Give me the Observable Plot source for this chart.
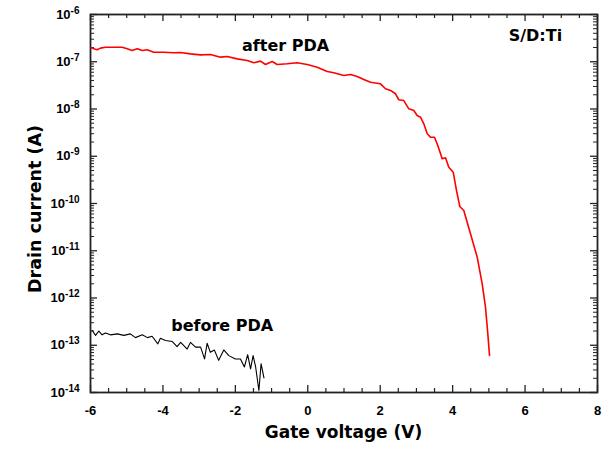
<!DOCTYPE html>
<html><head><meta charset="utf-8">
<script src="https://cdn.jsdelivr.net/npm/d3@7"></script>
<script src="https://cdn.jsdelivr.net/npm/@observablehq/plot@0.6"></script>
<style>body{margin:0;background:#fff}</style>
</head><body><div id="chart"></div>
<script>
// after PDA (red)
const afterV = [-5.981,-5.909,-5.815,-5.724,-5.586,-5.357,-5.125,-4.987,-4.849,-4.710,-4.572,-4.434,-4.252,-3.976,-3.700,-3.515,-3.239,-2.963,-2.687,-2.411,-2.225,-1.949,-1.673,-1.491,-1.306,-1.168,-0.983,-0.845,-0.568,-0.292,-0.016,0.260,0.536,0.718,0.995,1.180,1.365,1.547,1.732,2.008,2.146,2.284,2.422,2.513,2.651,2.790,2.928,3.021,3.113,3.204,3.298,3.389,3.499,3.590,3.712,3.803,3.894,4.016,4.107,4.198,4.308,4.493,4.678,4.816,4.907,4.971,5.018];
const afterI = [1.97e-7,1.88e-7,1.79e-7,1.94e-7,2.03e-7,2.03e-7,2.03e-7,1.88e-7,1.73e-7,1.88e-7,1.73e-7,1.79e-7,1.59e-7,1.59e-7,1.55e-7,1.57e-7,1.47e-7,1.40e-7,1.42e-7,1.25e-7,1.29e-7,1.15e-7,1.06e-7,9.51e-8,1.03e-7,8.75e-8,1.01e-7,8.75e-8,9.06e-8,9.51e-8,8.75e-8,7.67e-8,6.22e-8,5.83e-8,5.12e-8,5.37e-8,4.88e-8,4.21e-8,3.69e-8,3.41e-8,2.68e-8,2.47e-8,2.10e-8,1.57e-8,1.51e-8,1.01e-8,9.29e-9,7.28e-9,6.70e-9,4.86e-9,2.99e-9,2.53e-9,2.53e-9,1.69e-9,8.83e-10,9.27e-10,5.86e-10,4.59e-10,1.88e-10,8.65e-11,7.11e-11,2.29e-11,7.31e-12,2.00e-12,6.41e-13,1.75e-13,6.10e-14];
// before PDA (black)
const beforeV = [-5.95,-5.86,-5.77,-5.68,-5.59,-5.45,-5.26,-5.08,-4.90,-4.76,-4.57,-4.43,-4.30,-4.14,-4.07,-3.93,-3.74,-3.61,-3.51,-3.33,-3.24,-3.10,-2.96,-2.85,-2.78,-2.69,-2.58,-2.46,-2.32,-2.18,-2.00,-1.86,-1.75,-1.66,-1.58,-1.51,-1.44,-1.35,-1.29,-1.21];
const beforeI = [2.05e-13,1.62e-13,2.00e-13,1.66e-13,1.82e-13,1.66e-13,1.74e-13,1.62e-13,1.74e-13,1.45e-13,1.66e-13,1.45e-13,1.55e-13,1.07e-13,1.41e-13,1.26e-13,1.20e-13,9.33e-14,1.15e-13,8.32e-14,1.15e-13,9.12e-14,9.12e-14,5.13e-14,1.10e-13,7.08e-14,7.94e-14,4.79e-14,7.94e-14,6.03e-14,5.13e-14,5.13e-14,3.47e-14,6.31e-14,3.16e-14,6.03e-14,3.47e-14,1.10e-14,4.07e-14,2.04e-14];

const xMajorTicks = [-6,-4,-2,0,2,4,6,8];
const xMinorTicks = [-5.5,-5,-4.5,-3.5,-3,-2.5,-1.5,-1,-0.5,0.5,1,1.5,2.5,3,3.5,4.5,5,5.5,6.5,7,7.5];
const yExponents = [-14,-13,-12,-11,-10,-9,-8,-7,-6];
const yMantissas = [2,3,4,5,6,7,8,9];

const noteText = ["after PDA", "before PDA", "S/D:Ti"];
const noteV = [-0.6, -2.35, 6.3];
const noteI = [2.2e-7, 2.6e-13, 3.6e-7];

const xTitle = "Gate voltage (V)";
const yTitle = "Drain current (A)";

const after = afterV.map((v, k) => ({v, i: afterI[k]}));
const before = beforeV.map((v, k) => ({v, i: beforeI[k]}));
const yMajor = yExponents.map(e => Math.pow(10, e));
const yMinor = yExponents.slice(0, -1).flatMap(e => yMantissas.map(m => m * Math.pow(10, e)));

const TICKFONT = "'Liberation Sans', Arial, sans-serif";
const WIDEFONT = "'DejaVu Sans', sans-serif";
const AX = "#222";

// layout
const W = 608, H = 451, ML = 90, MR = 11, MT = 14, MB = 59;
const FW = W - ML - MR, FH = H - MT - MB;
const MAJ = 7, MIN = 4;

const plot = Plot.plot({
  width: W, height: H,
  marginLeft: ML, marginRight: MR, marginTop: MT, marginBottom: MB,
  style: {fontFamily: TICKFONT, fontWeight: "bold", fontSize: "13px", color: "#000", background: "#fff", overflow: "visible"},
  x: {domain: [-6, 8], label: null},
  y: {type: "log", domain: [1e-14, 1e-6], label: null},
  marks: [
    // inward ticks (short rules inset from the frame)
    Plot.ruleX(xMajorTicks, {x: d => d, insetTop: FH - MAJ, stroke: AX, strokeWidth: 1.3}),
    Plot.ruleX(xMinorTicks, {x: d => d, insetTop: FH - MIN, stroke: AX, strokeWidth: 1.2}),
    Plot.ruleX(xMajorTicks, {x: d => d, insetBottom: FH - MAJ, stroke: AX, strokeWidth: 1.3}),
    Plot.ruleX(xMinorTicks, {x: d => d, insetBottom: FH - MIN, stroke: AX, strokeWidth: 1.2}),
    Plot.ruleY(yMajor, {y: d => d, insetRight: FW - MAJ, stroke: AX, strokeWidth: 1.3}),
    Plot.ruleY(yMinor, {y: d => d, insetRight: FW - MIN, stroke: AX, strokeWidth: 1}),
    Plot.ruleY(yMajor, {y: d => d, insetLeft: FW - MAJ, stroke: AX, strokeWidth: 1.3}),
    Plot.ruleY(yMinor, {y: d => d, insetLeft: FW - MIN, stroke: AX, strokeWidth: 1}),
    // tick labels
    Plot.axisX({anchor: "bottom", ticks: xMajorTicks, tickSize: 0, tickPadding: 13, tickFormat: d => String(d), label: null}),
    Plot.axisY({anchor: "left", ticks: yMajor, tickSize: 0, tickPadding: 11, tickFormat: d => String(Math.round(Math.log10(d))), label: null}),
    Plot.frame({stroke: AX, strokeWidth: 1.8}),
    Plot.line(after, {x: "v", y: "i", stroke: "#ff0000", strokeWidth: 1.6}),
    Plot.line(before, {x: "v", y: "i", stroke: "#000", strokeWidth: 1.1})
  ]
});

const NS = "http://www.w3.org/2000/svg";
// exponent superscripts on the y tick labels
plot.querySelectorAll('g[aria-label="y-axis tick label"] text').forEach(t => {
  const e = t.textContent;
  if (!e) return;
  t.textContent = "";
  const base = document.createElementNS(NS, "tspan");
  base.textContent = "10";
  const sup = document.createElementNS(NS, "tspan");
  sup.textContent = e;
  sup.setAttribute("dy", "-0.5em");
  sup.setAttribute("font-size", "10");
  t.appendChild(base);
  t.appendChild(sup);
});

// annotations and axis titles, positioned through the plot's scales
const sx = plot.scale("x"), sy = plot.scale("y");
const [fx0, fx1] = sx.range, [fy0, fy1] = sy.range;
const g = document.createElementNS(NS, "g");
g.setAttribute("font-family", WIDEFONT);
g.setAttribute("font-weight", "bold");
g.setAttribute("fill", "#000");
g.setAttribute("text-anchor", "middle");
function addText(str, x, y, size, extra) {
  const t = document.createElementNS(NS, "text");
  t.setAttribute("x", x); t.setAttribute("y", y);
  t.setAttribute("font-size", size);
  if (extra) for (const k in extra) t.setAttribute(k, extra[k]);
  t.textContent = str;
  g.appendChild(t);
}
noteText.forEach((s, k) => addText(s, sx.apply(noteV[k]), sy.apply(noteI[k]), 16, {dy: "0.35em"}));
const bottom = Math.max(fy0, fy1);
addText(xTitle, (fx0 + fx1) / 2, bottom + 46, 17);
const midY = (fy0 + fy1) / 2 + 6;
addText(yTitle, 0, 0, 17.5, {dy: "0.35em", transform: `translate(${Math.min(fx0, fx1) - 55},${midY}) rotate(-90)`});
plot.appendChild(g);

document.getElementById("chart").appendChild(plot);
</script>
</body></html>
